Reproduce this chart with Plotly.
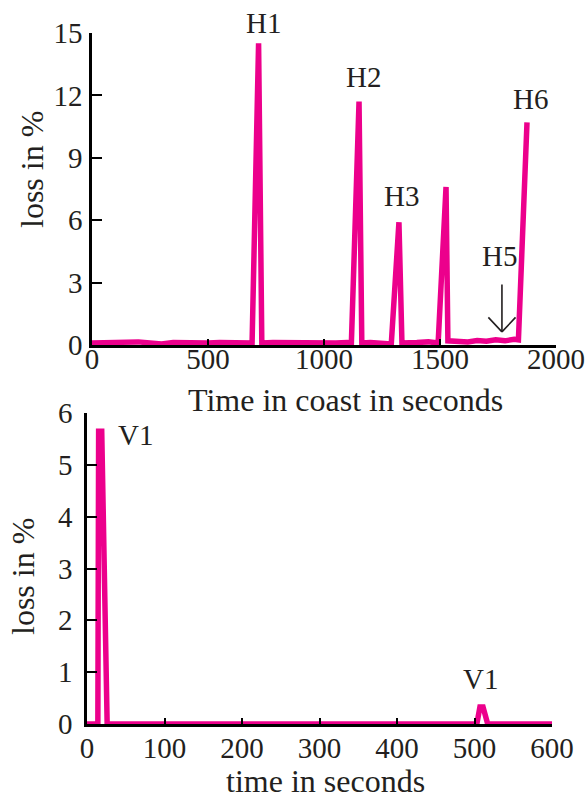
import plotly.graph_objects as go

# ---- data: top panel (horizontal coast) ----
coast_t = [0, 50, 100, 150, 200, 250, 300, 350, 400, 450, 500, 550, 600, 650, 690,
           718, 732, 780, 850, 900, 950, 1000, 1050, 1100, 1118,
           1151, 1163, 1200, 1250, 1290, 1323, 1336, 1400, 1450, 1492,
           1526, 1534, 1580, 1620, 1660, 1700, 1740, 1780, 1820, 1838, 1875]
coast_loss = [0.1, 0.12, 0.08, 0.1, 0.15, 0.1, 0.05, 0.12, 0.1, 0.08, 0.1, 0.12, 0.1, 0.1, 0.1,
              14.5, 0.1, 0.12, 0.1, 0.12, 0.1, 0.12, 0.1, 0.12, 0.1,
              11.7, 0.1, 0.12, 0.1, 0.05, 5.9, 0.1, 0.12, 0.15, 0.1,
              7.6, 0.2, 0.2, 0.15, 0.22, 0.18, 0.25, 0.2, 0.28, 0.25, 10.7]

coast_labels = ["H1", "H2", "H3", "H6"]
coast_label_t = [741, 1170, 1336, 1888]
coast_label_y = [15.5, 12.9, 7.15, 11.85]

h5_label = "H5"
h5_t = 1755
h5_y = 4.28
h5_arrow_top = 2.98
h5_arrow_tip = 0.63
h5_arrow_t = 1767

# ---- data: bottom panel ----
time_t = [0, 14, 15, 19, 26, 100, 200, 300, 400, 500, 503, 507, 511, 517, 600]
time_loss = [0, 0, 5.65, 5.65, 0, 0, 0, 0, 0, 0, 0, 0.33, 0.33, 0, 0]

time_labels = ["V1", "V1"]
time_label_t = [63, 508]
time_label_y = [5.58, 0.87]

top_yticks = [0, 3, 6, 9, 12, 15]
top_xticks = [0, 500, 1000, 1500, 2000]
bot_yticks = [0, 1, 2, 3, 4, 5, 6]
bot_xticks = [0, 100, 200, 300, 400, 500, 600]

PINK = "#EC008C"
FONT = "Liberation Serif"
FS = 29
FS_T = 32
TXT = "#231f20"

W, H = 588, 799
TOP_Y0 = 0.0
TOP_Y1 = 15.0

fig = go.Figure()
fig.add_trace(go.Scatter(x=coast_t, y=coast_loss, mode="lines",
                         line=dict(color=PINK, width=5.5), xaxis="x", yaxis="y",
                         showlegend=False))
fig.add_trace(go.Scatter(x=time_t, y=time_loss, mode="lines",
                         line=dict(color=PINK, width=5.5), xaxis="x2", yaxis="y2",
                         showlegend=False))

axis_common = dict(showgrid=False, zeroline=False, showline=True, linecolor="black",
                   linewidth=2.5, ticks="inside", tickcolor="black", tickwidth=2,
                   automargin=False,
                   tickfont=dict(family=FONT, size=FS, color=TXT))

def px_dom_x(a, b):
    return [a / W, b / W]

def px_dom_y(top, bottom):
    return [1 - bottom / H, 1 - top / H]

top_ydom = px_dom_y(33, 345)

fig.update_layout(
    width=W, height=H, autosize=False,
    margin=dict(l=0, r=0, t=0, b=0, autoexpand=False),
    paper_bgcolor="white", plot_bgcolor="white",
    xaxis=dict(axis_common, domain=px_dom_x(92, 556), range=[0, 2000],
               tickvals=top_xticks, ticklen=6, anchor="y", ticklabelstandoff=-14),
    yaxis=dict(axis_common, domain=top_ydom, range=[TOP_Y0, TOP_Y1],
               tickvals=top_yticks, ticklen=10, anchor="x", ticklabelstandoff=1),
    xaxis2=dict(axis_common, domain=px_dom_x(87, 552), range=[0, 600],
                tickvals=bot_xticks, ticklen=6, anchor="y2", ticklabelstandoff=-4),
    yaxis2=dict(axis_common, domain=px_dom_y(413, 724), range=[0, 6],
                tickvals=bot_yticks, ticklen=10, anchor="x2", ticklabelstandoff=6),
)

def top_paper_y(v):
    return top_ydom[0] + (v - TOP_Y0) / (TOP_Y1 - TOP_Y0) * (top_ydom[1] - top_ydom[0])

annots = []
for lab, t, y in zip(coast_labels, coast_label_t, coast_label_y):
    annots.append(dict(x=t, y=top_paper_y(y), xref="x", yref="paper", text=lab,
                       showarrow=False, font=dict(family=FONT, size=FS, color=TXT),
                       xanchor="center", yanchor="middle"))
annots.append(dict(x=h5_t, y=h5_y, xref="x", yref="y", text=h5_label, showarrow=False,
                   font=dict(family=FONT, size=FS, color=TXT),
                   xanchor="center", yanchor="middle"))
# arrow: shaft + two open head strokes
annots.append(dict(x=h5_arrow_t, y=h5_arrow_tip, xref="x", yref="y",
                   ax=h5_arrow_t, ay=h5_arrow_top, axref="x", ayref="y",
                   text="", showarrow=True, arrowhead=0, arrowwidth=1.6,
                   arrowcolor=TXT, standoff=0, startstandoff=0))
for dx in (-15, 15):
    annots.append(dict(x=h5_arrow_t, y=h5_arrow_tip, xref="x", yref="y",
                       ax=dx, ay=-16, text="", showarrow=True, arrowhead=0,
                       arrowwidth=1.6, arrowcolor=TXT, standoff=0, startstandoff=0))
for lab, t, y in zip(time_labels, time_label_t, time_label_y):
    annots.append(dict(x=t, y=y, xref="x2", yref="y2", text=lab, showarrow=False,
                       font=dict(family=FONT, size=FS, color=TXT),
                       xanchor="center", yanchor="middle"))

# axis titles
annots += [
    dict(x=32 / W, y=1 - 170 / H, xref="paper", yref="paper", text="loss in %",
         textangle=-90, showarrow=False, font=dict(family=FONT, size=FS_T, color=TXT),
         xanchor="center", yanchor="middle"),
    dict(x=345 / W, y=1 - 400 / H, xref="paper", yref="paper",
         text="Time in coast in seconds", showarrow=False,
         font=dict(family=FONT, size=FS_T, color=TXT), xanchor="center", yanchor="middle"),
    dict(x=23 / W, y=1 - 577 / H, xref="paper", yref="paper", text="loss in %",
         textangle=-90, showarrow=False, font=dict(family=FONT, size=FS_T, color=TXT),
         xanchor="center", yanchor="middle"),
    dict(x=326 / W, y=1 - 781 / H, xref="paper", yref="paper",
         text="time in seconds", showarrow=False,
         font=dict(family=FONT, size=FS_T, color=TXT), xanchor="center", yanchor="middle"),
]
fig.update_layout(annotations=annots)

fig.write_html("out.html")
